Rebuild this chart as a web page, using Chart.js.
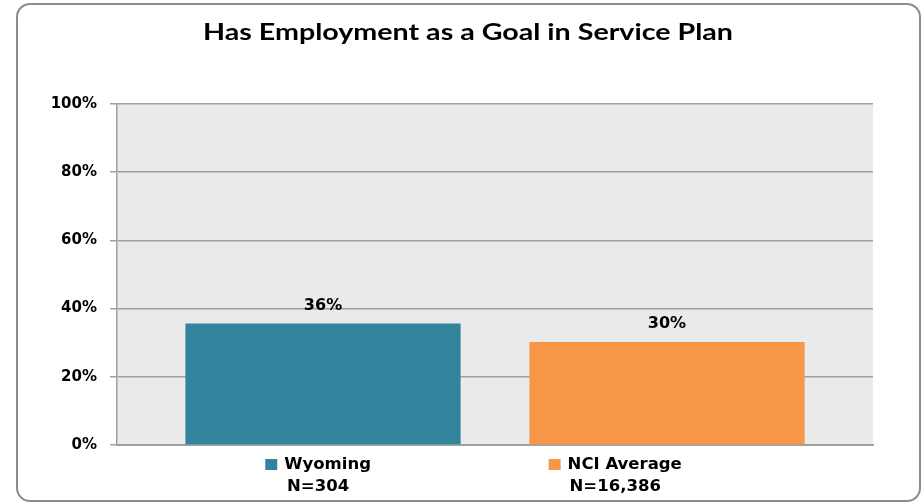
<!DOCTYPE html>
<html>
<head>
<meta charset="utf-8">
<script src="https://cdn.jsdelivr.net/npm/chart.js@4.4.1/dist/chart.umd.min.js"></script>
<style>
  html, body { margin: 0; padding: 0; background: #fff; }
  #wrap { position: relative; width: 922px; height: 502px; }
  #frame {
    position: absolute; left: 16px; top: 3px; width: 901px; height: 495px;
    border: 2px solid #8c8c8c; border-radius: 14px; pointer-events: none;
  }
</style>
</head>
<body>
<div id="wrap">
  <canvas id="chart" width="922" height="502"></canvas>
  <div id="frame"></div>
</div>
<script>
// ── Data ──────────────────────────────────────────────────────────────────────
const TITLE = "Has Employment as a Goal in Service Plan";
const categories = [""];
const seriesNames = ["Wyoming", "NCI Average"];
const sampleSizes = ["N=304", "N=16,386"];
const seriesValues = [35.6, 30.2];
const valueLabels = ["36%", "30%"];
const seriesColors = ["#31849B", "#F79646"];
const yTicks = [0, 20, 40, 60, 80, 100];

const LABEL_FONT = "bold 16px 'DejaVu Sans'";
const LEGEND_FONT = "bold 16.5px 'DejaVu Sans'";
const TITLE_FONT = "bold 22px Lato";
const TITLE_WIDTH = 530; // title is drawn a bit wide, like the original

// ── Plugins ───────────────────────────────────────────────────────────────────
const plotBackground = {
  id: "plotBackground",
  beforeDraw(chart) {
    const { ctx, chartArea: a } = chart;
    ctx.save();
    ctx.fillStyle = "#EAEAEA";
    ctx.fillRect(a.left, a.top, a.right - a.left, a.bottom - a.top);
    ctx.restore();
  },
};

const titleAndLabels = {
  id: "titleAndLabels",
  afterDatasetsDraw(chart) {
    const { ctx, chartArea: a } = chart;
    ctx.save();
    // title, stretched horizontally
    ctx.fillStyle = "#000";
    ctx.font = TITLE_FONT;
    ctx.textAlign = "center";
    ctx.textBaseline = "middle";
    const sx = TITLE_WIDTH / ctx.measureText(TITLE).width;
    ctx.save();
    ctx.translate(468, 33);
    ctx.scale(sx, 1);
    ctx.fillText(TITLE, 0, 0);
    ctx.restore();

    // value labels above bars
    ctx.font = LABEL_FONT;
    seriesValues.forEach((v, i) => {
      const bar = chart.getDatasetMeta(i).data[0];
      ctx.fillText(valueLabels[i], bar.x, bar.y - 18);
    });

    // legend under the axis: swatch + name, sample size centred below
    const centres = [0.266, 0.659];
    seriesNames.forEach((name, i) => {
      ctx.font = LEGEND_FONT;
      const tw = ctx.measureText(name).width;
      const sw = 12, gap = 7;
      const cx = a.left + centres[i] * (a.right - a.left);
      const x0 = cx - (sw + gap + tw) / 2;
      const y1 = a.bottom + 19, y2 = a.bottom + 42;
      ctx.fillStyle = seriesColors[i];
      ctx.fillRect(x0, y1 - 5, sw, 11);
      ctx.fillStyle = "#000";
      ctx.textAlign = "left";
      ctx.fillText(name, x0 + sw + gap, y1 + 1);
      ctx.textAlign = "center";
      ctx.fillText(sampleSizes[i], cx, y2);
    });
    ctx.restore();
  },
};

// ── Chart ─────────────────────────────────────────────────────────────────────
new Chart(document.getElementById("chart"), {
  type: "bar",
  data: {
    labels: categories,
    datasets: seriesNames.map((name, i) => ({
      label: name,
      data: [seriesValues[i]],
      backgroundColor: seriesColors[i],
      borderWidth: 0,
      categoryPercentage: 0.91,
      barPercentage: 0.8,
    })),
  },
  options: {
    responsive: false,
    animation: false,
    events: [],
    layout: { padding: { top: 104, right: 49, bottom: 57, left: 0 } },
    plugins: { legend: { display: false }, title: { display: false }, tooltip: { enabled: false } },
    scales: {
      x: {
        ticks: { display: false },
        grid: { display: false },
        border: { display: true, color: "#A0A0A0", width: 2 },
        afterFit(scale) { scale.height = 0; },
      },
      y: {
        min: 0, max: 100,
        afterBuildTicks(scale) { scale.ticks = yTicks.map(v => ({ value: v })); },
        afterFit(scale) { scale.width = 117; },
        ticks: {
          padding: 13,
          color: "#000",
          font: { family: "DejaVu Sans", size: 15, weight: "bold" },
          callback: v => v + "%",
        },
        grid: { color: "#A0A0A0", lineWidth: 1.5, tickLength: 7 },
        border: { display: true, color: "#A0A0A0", width: 1.5 },
      },
    },
  },
  plugins: [plotBackground, titleAndLabels],
});
</script>
</body>
</html>
